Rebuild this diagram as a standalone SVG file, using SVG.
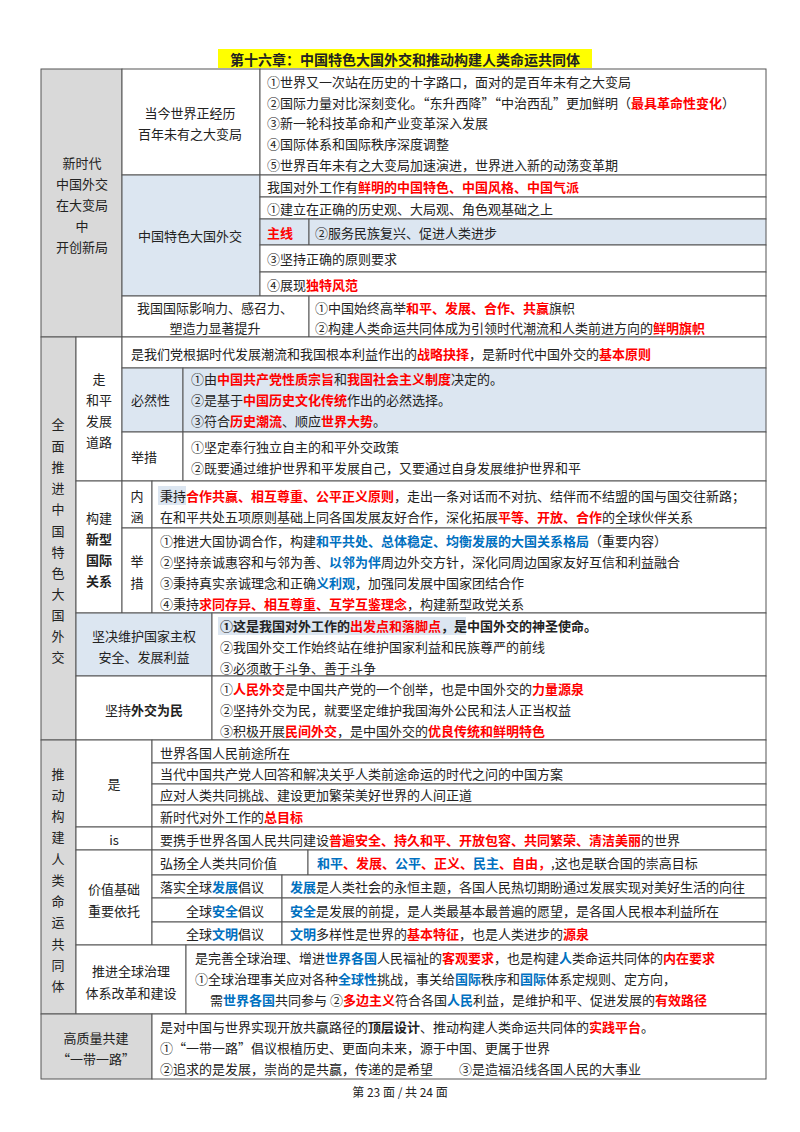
<svg xmlns="http://www.w3.org/2000/svg" width="800" height="1132" viewBox="0 0 800 1132">
<style>
.c{stroke:#555;stroke-width:1;fill:#fff}
.g{fill:#d9d9d9}
.u{fill:#dce6f1}
text{font-family:"Noto Sans CJK SC","Noto Sans",sans-serif;font-size:13px;fill:#222;dominant-baseline:central}
.m{text-anchor:middle}
.r{fill:#f00;font-weight:bold}
.b{fill:#0070c0;font-weight:bold}
.k{font-weight:bold}
</style>
<rect width="800" height="1132" fill="#fff"/>
<rect x="218" y="49" width="374" height="19" fill="#ffff00"/>
<text x="405" y="59" class="m k" style="font-size:14px">第十六章：中国特色大国外交和推动构建人类命运共同体</text>

<g id="sec1">
<rect class="c g" x="41" y="69" width="81" height="268"/>
<rect class="c" x="122" y="69" width="138" height="106"/>
<rect class="c" x="260" y="69" width="506" height="106"/>
<rect class="c u" x="122" y="175" width="138" height="121"/>
<rect class="c" x="260" y="175" width="506" height="22"/>
<rect class="c" x="260" y="197" width="506" height="22"/>
<rect class="c u" x="260" y="219" width="49" height="26"/>
<rect class="c u" x="309" y="219" width="457" height="26"/>
<rect class="c" x="260" y="245" width="506" height="27"/>
<rect class="c" x="260" y="272" width="506" height="24"/>
<rect class="c" x="122" y="296" width="187" height="41"/>
<rect class="c" x="309" y="296" width="457" height="41"/>
<text x="82" y="162" class="m">新时代</text>
<text x="82" y="183" class="m">中国外交</text>
<text x="82" y="204" class="m">在大变局</text>
<text x="82" y="225" class="m">中</text>
<text x="82" y="246" class="m">开创新局</text>
<text x="190" y="112" class="m">当今世界正经历</text>
<text x="190" y="133" class="m">百年未有之大变局</text>
<text x="267" y="81">①世界又一次站在历史的十字路口，面对的是百年未有之大变局</text>
<text x="267" y="102">②国际力量对比深刻变化。“东升西降”“中治西乱”更加鲜明（<tspan class="r">最具革命性变化</tspan>）</text>
<text x="267" y="122">③新一轮科技革命和产业变革深入发展</text>
<text x="267" y="143">④国际体系和国际秩序深度调整</text>
<text x="267" y="164">⑤世界百年未有之大变局加速演进，世界进入新的动荡变革期</text>
<text x="190" y="235" class="m">中国特色大国外交</text>
<text x="267" y="186">我国对外工作有<tspan class="r">鲜明的中国特色、中国风格、中国气派</tspan></text>
<text x="267" y="208">①建立在正确的历史观、大局观、角色观基础之上</text>
<text x="267" y="232" class="r">主线</text>
<text x="315" y="232">②服务民族复兴、促进人类进步</text>
<text x="267" y="258">③坚持正确的原则要求</text>
<text x="267" y="284">④展现<tspan class="r">独特风范</tspan></text>
<text x="215" y="307" class="m">我国国际影响力、感召力、</text>
<text x="215" y="327" class="m">塑造力显著提升</text>
<text x="315" y="307">①中国始终高举<tspan class="r">和平、发展、合作、共赢</tspan>旗帜</text>
<text x="315" y="327">②构建人类命运共同体成为引领时代潮流和人类前进方向的<tspan class="r">鲜明旗帜</tspan></text>
</g>

<g id="sec2">
<rect class="c g" x="41" y="337" width="35" height="403"/>
<rect class="c" x="76" y="337" width="46" height="144"/>
<rect class="c" x="122" y="337" width="644" height="31"/>
<rect class="c u" x="122" y="368" width="61" height="64"/>
<rect class="c u" x="183" y="368" width="583" height="64"/>
<rect class="c" x="122" y="432" width="61" height="49"/>
<rect class="c" x="183" y="432" width="583" height="49"/>
<rect class="c" x="76" y="481" width="46" height="132"/>
<rect class="c" x="122" y="481" width="30" height="47"/>
<rect class="c" x="152" y="481" width="614" height="47"/>
<rect class="c" x="122" y="528" width="30" height="85"/>
<rect class="c" x="152" y="528" width="614" height="85"/>
<rect class="c u" x="76" y="613" width="136" height="63"/>
<rect class="c" x="212" y="613" width="554" height="63"/>
<rect class="c" x="76" y="676" width="136" height="64"/>
<rect class="c" x="212" y="676" width="554" height="64"/>
<rect x="158" y="486" width="28" height="19" fill="#dce6f1"/>
<rect x="218" y="617" width="248" height="18" fill="#dce6f1"/>
<text x="58" y="423" class="m">全</text><text x="58" y="445" class="m">面</text><text x="58" y="466" class="m">推</text><text x="58" y="487" class="m">进</text><text x="58" y="508" class="m">中</text><text x="58" y="530" class="m">国</text><text x="58" y="551" class="m">特</text><text x="58" y="572" class="m">色</text><text x="58" y="593" class="m">大</text><text x="58" y="614" class="m">国</text><text x="58" y="635" class="m">外</text><text x="58" y="656" class="m">交</text>
<text x="99" y="378" class="m">走</text>
<text x="99" y="399" class="m">和平</text>
<text x="99" y="420" class="m">发展</text>
<text x="99" y="441" class="m">道路</text>
<text x="131" y="353">是我们党根据时代发展潮流和我国根本利益作出的<tspan class="r">战略抉择</tspan>，是新时代中国外交的<tspan class="r">基本原则</tspan></text>
<text x="131" y="399">必然性</text>
<text x="191" y="378">①由<tspan class="r">中国共产党性质宗旨</tspan>和<tspan class="r">我国社会主义制度</tspan>决定的。</text>
<text x="191" y="399">②是基于<tspan class="r">中国历史文化传统</tspan>作出的必然选择。</text>
<text x="191" y="420">③符合<tspan class="r">历史潮流</tspan>、顺应<tspan class="r">世界大势</tspan>。</text>
<text x="131" y="456">举措</text>
<text x="191" y="446">①坚定奉行独立自主的和平外交政策</text>
<text x="191" y="467">②既要通过维护世界和平发展自己，又要通过自身发展维护世界和平</text>
<text x="99" y="517" class="m">构建</text>
<text x="99" y="538" class="m k">新型</text>
<text x="99" y="559" class="m k">国际</text>
<text x="99" y="580" class="m k">关系</text>
<text x="137" y="495" class="m">内</text>
<text x="137" y="516" class="m">涵</text>
<text x="137" y="560" class="m">举</text>
<text x="137" y="582" class="m">措</text>
<text x="160" y="495">秉持<tspan class="r">合作共赢、相互尊重、公平正义原则</tspan>，走出一条对话而不对抗、结伴而不结盟的国与国交往新路；</text>
<text x="160" y="516">在和平共处五项原则基础上同各国发展友好合作，深化拓展<tspan class="r">平等、开放、合作</tspan>的全球伙伴关系</text>
<text x="160" y="540">①推进大国协调合作，构建<tspan class="b">和平共处、总体稳定、均衡发展的大国关系格局</tspan>（重要内容）</text>
<text x="160" y="561">②坚持亲诚惠容和与邻为善、<tspan class="b">以邻为伴</tspan>周边外交方针，深化同周边国家友好互信和利益融合</text>
<text x="160" y="582">③秉持真实亲诚理念和正确<tspan class="b">义利观</tspan>，加强同发展中国家团结合作</text>
<text x="160" y="603">④秉持<tspan class="r">求同存异、相互尊重、互学互鉴理念</tspan>，构建新型政党关系</text>
<text x="144" y="635" class="m">坚决维护国家主权</text>
<text x="144" y="656" class="m">安全、发展利益</text>
<text x="220" y="625" class="k">①这是我国对外工作的<tspan class="r">出发点和落脚点</tspan>，是中国外交的神圣使命。</text>
<text x="220" y="646">②我国外交工作始终站在维护国家利益和民族尊严的前线</text>
<text x="220" y="667">③必须敢于斗争、善于斗争</text>
<text x="144" y="709" class="m">坚持<tspan class="k">外交为民</tspan></text>
<text x="220" y="688">①<tspan class="r">人民外交</tspan>是中国共产党的一个创举，也是中国外交的<tspan class="r">力量源泉</tspan></text>
<text x="220" y="709">②坚持外交为民，就要坚定维护我国海外公民和法人正当权益</text>
<text x="220" y="730">③积极开展<tspan class="r">民间外交</tspan>，是中国外交的<tspan class="r">优良传统和鲜明特色</tspan></text>
</g>

<g id="sec3">
<rect class="c g" x="41" y="740" width="35" height="274"/>
<rect class="c" x="76" y="740" width="76" height="87"/>
<rect class="c" x="152" y="740" width="614" height="23"/>
<rect class="c" x="152" y="763" width="614" height="21"/>
<rect class="c" x="152" y="784" width="614" height="21"/>
<rect class="c" x="152" y="805" width="614" height="22"/>
<rect class="c" x="76" y="827" width="76" height="23"/>
<rect class="c" x="152" y="827" width="614" height="23"/>
<rect class="c" x="76" y="850" width="76" height="95"/>
<rect class="c" x="152" y="850" width="156" height="25"/>
<rect class="c" x="308" y="850" width="458" height="25"/>
<rect class="c" x="152" y="875" width="130" height="23"/>
<rect class="c" x="282" y="875" width="484" height="23"/>
<rect class="c" x="152" y="898" width="130" height="24"/>
<rect class="c" x="282" y="898" width="484" height="24"/>
<rect class="c" x="152" y="922" width="130" height="23"/>
<rect class="c" x="282" y="922" width="484" height="23"/>
<rect class="c" x="76" y="945" width="110" height="69"/>
<rect class="c" x="186" y="945" width="580" height="69"/>
<text x="58" y="773" class="m">推</text><text x="58" y="794" class="m">动</text><text x="58" y="815" class="m">构</text><text x="58" y="836" class="m">建</text><text x="58" y="858" class="m">人</text><text x="58" y="879" class="m">类</text><text x="58" y="900" class="m">命</text><text x="58" y="921" class="m">运</text><text x="58" y="943" class="m">共</text><text x="58" y="964" class="m">同</text><text x="58" y="985" class="m">体</text>
<text x="114" y="783" class="m">是</text>
<text x="160" y="752">世界各国人民前途所在</text>
<text x="160" y="773">当代中国共产党人回答和解决关乎人类前途命运的时代之问的中国方案</text>
<text x="160" y="794">应对人类共同挑战、建设更加繁荣美好世界的人间正道</text>
<text x="160" y="816">新时代对外工作的<tspan class="r">总目标</tspan></text>
<text x="114" y="839" class="m">is</text>
<text x="160" y="839">要携手世界各国人民共同建设<tspan class="r">普遍安全、持久和平、开放包容、共同繁荣、清洁美丽</tspan>的世界</text>
<text x="114" y="888" class="m">价值基础</text>
<text x="114" y="910" class="m">重要依托</text>
<text x="160" y="862">弘扬全人类共同价值</text>
<text x="317" y="862"><tspan class="b">和平</tspan><tspan class="r">、发展、</tspan><tspan class="b">公平</tspan><tspan class="r">、正义、</tspan><tspan class="b">民主</tspan><tspan class="r">、自由，</tspan>,这也是联合国的崇高目标</text>
<text x="160" y="886">落实全球<tspan class="b">发展</tspan>倡议</text>
<text x="186" y="910">全球<tspan class="b">安全</tspan>倡议</text>
<text x="186" y="933">全球<tspan class="b">文明</tspan>倡议</text>
<text x="290" y="886"><tspan class="b">发展</tspan>是人类社会的永恒主题，各国人民热切期盼通过发展实现对美好生活的向往</text>
<text x="290" y="910"><tspan class="b">安全</tspan>是发展的前提，是人类最基本最普遍的愿望，是各国人民根本利益所在</text>
<text x="290" y="933"><tspan class="b">文明</tspan>多样性是世界的<tspan class="r">基本特征</tspan>，也是人类进步的<tspan class="r">源泉</tspan></text>
<text x="131" y="970" class="m">推进全球治理</text>
<text x="131" y="992" class="m">体系改革和建设</text>
<text x="195" y="957">是完善全球治理、增进<tspan class="b">世界各国</tspan>人民福祉的<tspan class="r">客观要求</tspan>，也是构建<tspan class="b">人</tspan>类命运共同体的<tspan class="r">内在要求</tspan></text>
<text x="195" y="978">①全球治理事关应对各种<tspan class="b">全球性</tspan>挑战，事关给<tspan class="b">国际</tspan>秩序和<tspan class="b">国际</tspan>体系定规则、定方向，</text>
<text x="210" y="999">需<tspan class="b">世界各国</tspan>共同参与 ②<tspan class="r">多边主义</tspan>符合各国<tspan class="b">人民</tspan>利益，是维护和平、促进发展的<tspan class="r">有效路径</tspan></text>
</g>

<g id="sec4">
<rect class="c g" x="41" y="1014" width="111" height="65"/>
<rect class="c" x="152" y="1014" width="614" height="65"/>
<text x="96" y="1037" class="m">高质量共建</text>
<text x="96" y="1058" class="m">“一带一路”</text>
<text x="160" y="1026">是对中国与世界实现开放共赢路径的<tspan class="k">顶层设计</tspan>、推动构建人类命运共同体的<tspan class="r">实践平台</tspan>。</text>
<text x="160" y="1047">①“一带一路”倡议根植历史、更面向未来，源于中国、更属于世界</text>
<text x="160" y="1068">②追求的是发展，崇尚的是共赢，传递的是希望　　③是造福沿线各国人民的大事业</text>
</g>
<g id="connectors"/>
<text x="400" y="1091" class="m" style="font-size:12px">第 23 面 / 共 24 面</text>
</svg>
